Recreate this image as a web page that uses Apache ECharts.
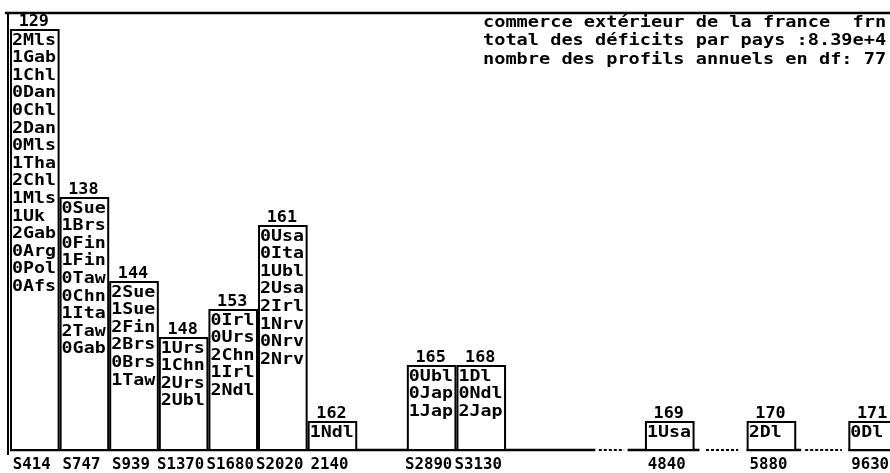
<!DOCTYPE html>
<html>
<head>
<meta charset="utf-8">
<script src="https://cdn.jsdelivr.net/npm/echarts@6/dist/echarts.min.js"></script>
<style>
html, body { margin: 0; background: #fff; }
#main { width: 890px; height: 473px; }
</style>
</head>
<body>
<div id="main"></div>
<script>
// numéros au-dessus des barres
const profils = ['129', '138', '144', '148', '153', '161', '162', '165', '168', '169', '170', '171'];
// bornes des classes, sous l'axe
const bornes = ['S414', 'S747', 'S939', 'S1370', 'S1680', 'S2020', '2140', 'S2890', 'S3130', '4840', '5880', '9630'];
// place de chaque barre sur l'axe (en largeurs de barre, axe coupé après 9)
const positions = [0, 1, 2, 3, 4, 5, 6, 8, 9, 12.8, 14.85, 16.9];
// profils annuels (année + pays) de chaque classe
const pays = [
    ['2Mls', '1Gab', '1Chl', '0Dan', '0Chl', '2Dan', '0Mls', '1Tha', '2Chl', '1Mls', '1Uk', '2Gab', '0Arg', '0Pol', '0Afs'],
    ['0Sue', '1Brs', '0Fin', '1Fin', '0Taw', '0Chn', '1Ita', '2Taw', '0Gab'],
    ['2Sue', '1Sue', '2Fin', '2Brs', '0Brs', '1Taw'],
    ['1Urs', '1Chn', '2Urs', '2Ubl'],
    ['0Irl', '0Urs', '2Chn', '1Irl', '2Ndl'],
    ['0Usa', '0Ita', '1Ubl', '2Usa', '2Irl', '1Nrv', '0Nrv', '2Nrv'],
    ['1Ndl'],
    ['0Ubl', '0Jap', '1Jap'],
    ['1Dl', '0Ndl', '2Jap'],
    ['1Usa'],
    ['2Dl'],
    ['0Dl']
];
// titre
const titre = [
    'commerce extérieur de la france  frn',
    'total des déficits par pays :8.39e+4',
    'nombre des profils annuels en df: 77'
];
// axe de base : morceaux pleins et morceaux pointillés (coupures)
const basePleine = [[0, 11.8], [12.45, 13.9], [14.85, 15.95], [16.9, 17.8]];
const basePointillee = [[11.87, 12.38], [14.03, 14.68], [16.03, 16.77]];

const police = '"DejaVu Sans Mono", monospace';

const data = pays.map((p, i) => [positions[i], p.length, i]);

const texte = (t, x, y, sx, align, valign, extra) => ({
    type: 'text', x: x, y: y, scaleX: sx,
    style: Object.assign({
        text: t, fill: '#000', fontFamily: police, fontWeight: 'bold', fontSize: 15,
        textAlign: align, textVerticalAlign: valign
    }, extra || {})
});

const renderBarre = (params, api) => {
    const i = api.value(2);
    const p0 = api.coord([api.value(0), 0]);
    const p1 = api.coord([api.value(0), api.value(1)]);
    const w = api.size([1, 0])[0];
    const left = p0[0] + 1, bw = w - 2, top = p1[1], bottom = p0[1];
    return {
        type: 'group',
        children: [
            {
                type: 'rect',
                shape: { x: left, y: top, width: bw, height: bottom - top },
                style: { fill: '#fff', stroke: '#000', lineWidth: 2 }
            },
            texte(profils[i], left + bw / 2 - 1, top - 8, 1.12, 'center', 'middle'),
            texte(pays[i].join('\n'), left + 1, top + 2, 1.22, 'left', 'top', { lineHeight: 17.6 }),
            texte(bornes[i], left + bw / 2 - 3, bottom + 15, 1.05, 'center', 'middle')
        ]
    };
};

const chart = echarts.init(document.getElementById('main'));
chart.setOption({
    animation: false,
    backgroundColor: '#fff',
    grid: { left: 10, right: 0, top: 30, bottom: 23 },
    xAxis: { type: 'value', min: 0, max: 17.74, show: false },
    yAxis: { type: 'value', min: 0, max: 15, show: false },
    series: [{ type: 'custom', renderItem: renderBarre, data: data, clip: false }]
});

// cadre, titre et axe de base
const y0 = chart.convertToPixel({ gridIndex: 0 }, [0, 0])[1];
const px = (v) => chart.convertToPixel({ gridIndex: 0 }, [v, 0])[0];
const graphics = [
    { type: 'line', shape: { x1: 5, y1: 13, x2: 890, y2: 13 }, style: { stroke: '#000', lineWidth: 2.5 } },
    { type: 'line', shape: { x1: 8, y1: 13, x2: 8, y2: y0 + 5 }, style: { stroke: '#000', lineWidth: 2 } }
];
titre.forEach((t, k) => graphics.push(texte(t, 483, 23 + k * 18.5, 1.24, 'left', 'middle')));
basePleine.forEach(s => graphics.push({
    type: 'line', shape: { x1: px(s[0]), y1: y0, x2: px(s[1]), y2: y0 },
    style: { stroke: '#000', lineWidth: 2.5 }
}));
basePointillee.forEach(s => graphics.push({
    type: 'line', shape: { x1: px(s[0]), y1: y0, x2: px(s[1]), y2: y0 },
    style: { stroke: '#000', lineWidth: 2, lineDash: [3, 2] }
}));
chart.setOption({ graphic: graphics });
</script>
</body>
</html>
